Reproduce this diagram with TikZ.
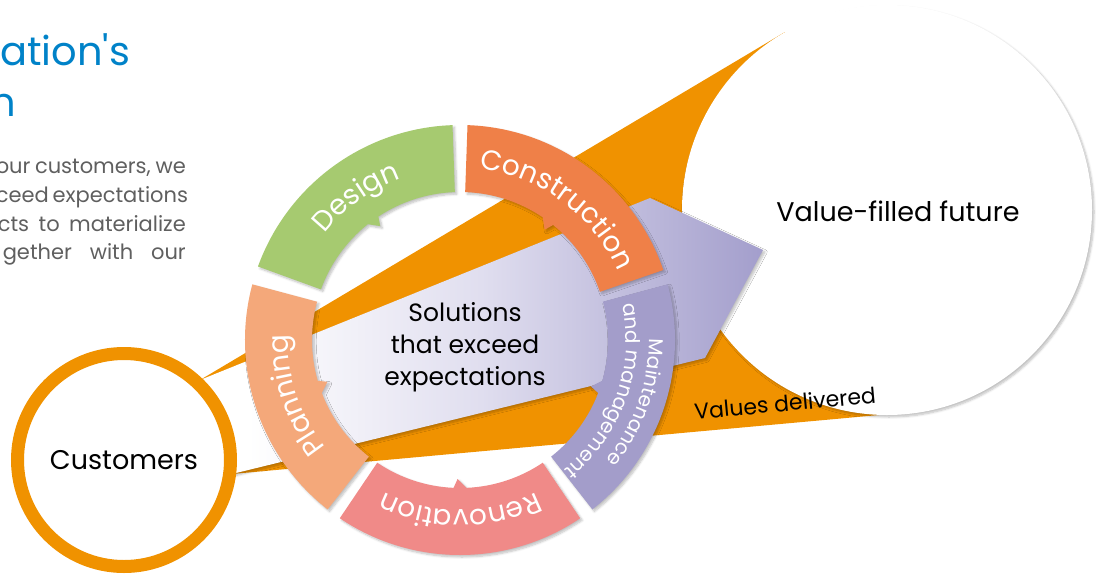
\documentclass[tikz,border=0pt]{standalone}
\usepackage{fontspec}
\setmainfont{Poppins}
\usetikzlibrary{decorations.text,shadows.blur}

\definecolor{bandorange}{RGB}{240,146,0}
\definecolor{designgreen}{RGB}{166,202,112}
\definecolor{buildorange}{RGB}{239,128,72}
\definecolor{carelilac}{RGB}{163,157,202}
\definecolor{renovpink}{RGB}{240,138,136}
\definecolor{planpeach}{RGB}{244,168,122}
\definecolor{titleblue}{RGB}{0,130,200}
\definecolor{bodygrey}{RGB}{95,95,95}
\definecolor{arrowlilac}{RGB}{163,158,204}
\definecolor{arrowmid}{RGB}{224,222,239}

% white on the left, lilac at the arrow head
\pgfdeclarehorizontalshading{lilacfade}{100bp}{color(0bp)=(white); color(33bp)=(white); color(52bp)=(arrowmid); color(75bp)=(arrowlilac); color(100bp)=(arrowlilac)}

\newcommand{\seglabel}{\color{white}\fontsize{28}{28}\selectfont}
\newcommand{\carelabel}{\color{white}\fontsize{20}{20}\selectfont}

\begin{document}
\begin{tikzpicture}[x=1pt,y=1pt,
    softshadow/.style={blur shadow={shadow xshift=2pt,shadow yshift=-2pt,shadow blur steps=6,shadow opacity=25}},
    ringtext/.style={decorate,decoration={text along path,text align=center,text={#1}}},
    bodyline/.style={anchor=base east,inner sep=0pt,text=bodygrey,font=\fontsize{21}{21}\selectfont}]

    \useasboundingbox (0,0) rectangle (1097,-576);

    % Title and text, cut at the left edge
    \node[anchor=base west, inner sep=0pt, text=titleblue, font=\fontsize{40}{40}\selectfont] (titleA) at (0,-65) {ation\textquotesingle s};
    \node[anchor=base west, inner sep=0pt, text=titleblue, font=\fontsize{40}{40}\selectfont] (titleB) at (-10,-116) {n};
    \node[bodyline] (bodyA) at (186,-173) {\makebox[190pt][s]{our customers, we}};
    \node[bodyline] (bodyB) at (186,-202) {\makebox[190pt][s]{ceed expectations}};
    \node[bodyline] (bodyC) at (186,-231) {\makebox[188pt][s]{cts to materialize}};
    \node[bodyline] (bodyD) at (186,-259) {\makebox[183pt][s]{gether with our}};

    % Orange funnel from the customers to the future
    \fill[bandorange] (150,-430) -- (200,-380) -- (785,-32) -- (887,-210) -- (890,-414) -- (232,-474) -- cycle;

    % Value-filled future
    \node[circle, fill=white, minimum size=410pt, softshadow] (future) at (887,-210) {};
    \node[font=\fontsize{27}{27}\selectfont] (futurelabel) at (898,-211) {Value-filled future};

    % Lilac arrow through the ring
    \shade[shading=lilacfade, softshadow]
        (150,-430) -- (200,-380) -- (650,-198) -- (763,-250) -- (705,-358) -- (232,-474) -- cycle;

    % The ring of five steps
    \begin{scope}[shift={(460,-340)}]
        % Design
        \fill[designgreen, softshadow] (92:215pt) arc[start angle=92, end angle=160, radius=215pt] -- (160:148pt)
            arc[start angle=160, end angle=128.5, radius=148pt] -- (125:139pt) -- (123.5:148pt) arc[start angle=123.5, end angle=92, radius=148pt] -- cycle;
        % Construction
        \fill[buildorange, softshadow] (19:215pt) arc[start angle=19, end angle=88, radius=215pt] -- (88:148pt)
            arc[start angle=88, end angle=56, radius=148pt] -- (52.5:139pt) -- (51:148pt) arc[start angle=51, end angle=19, radius=148pt] -- cycle;
        % Maintenance and management
        \fill[carelilac, softshadow] (-52:215pt) arc[start angle=-52, end angle=15, radius=215pt] -- (15:148pt)
            arc[start angle=15, end angle=-16, radius=148pt] -- (-19.5:139pt) -- (-21:148pt) arc[start angle=-21, end angle=-52, radius=148pt] -- cycle;
        % Renovation
        \fill[renovpink, softshadow] (-124:215pt) arc[start angle=-124, end angle=-56, radius=215pt] -- (-56:148pt)
            arc[start angle=-56, end angle=-87.5, radius=148pt] -- (-91:139pt) -- (-92.5:148pt) arc[start angle=-92.5, end angle=-124, radius=148pt] -- cycle;
        % Planning
        \fill[planpeach, softshadow] (165:215pt) arc[start angle=165, end angle=232, radius=215pt] -- (232:148pt)
            arc[start angle=232, end angle=201, radius=148pt] -- (197.5:139pt) -- (196:148pt) arc[start angle=196, end angle=165, radius=148pt] -- cycle;

        % Labels along the ring
        \path[ringtext={|\seglabel|Design}] (160:172pt) arc[start angle=160, end angle=92, radius=172pt];
        \path[ringtext={|\seglabel|Construction}] (88:172pt) arc[start angle=88, end angle=19, radius=172pt];
        \path[ringtext={|\carelabel|Maintenance}] (16:189pt) arc[start angle=16, end angle=-55, radius=189pt];
        \path[ringtext={|\carelabel|and management}] (16:166pt) arc[start angle=16, end angle=-55, radius=166pt];
        \path[ringtext={|\seglabel|Renovation}] (-56:170pt) arc[start angle=-56, end angle=-124, radius=170pt];
        \path[ringtext={|\seglabel|Planning}] (232:172pt) arc[start angle=232, end angle=165, radius=172pt];
    \end{scope}

    \node[align=center, font=\fontsize{25}{32}\selectfont] (solutions) at (465,-347) {Solutions\\that exceed\\expectations};

    % Customers
    \node[circle, draw=bandorange, line width=13pt, fill=white, minimum size=213pt, softshadow,
        font=\fontsize{27}{27}\selectfont] (customers) at (124,-460) {Customers};

    \node[rotate=5.3, font=\fontsize{22}{22}\selectfont] (delivered) at (785,-403) {Values delivered};
\end{tikzpicture}
\end{document}
